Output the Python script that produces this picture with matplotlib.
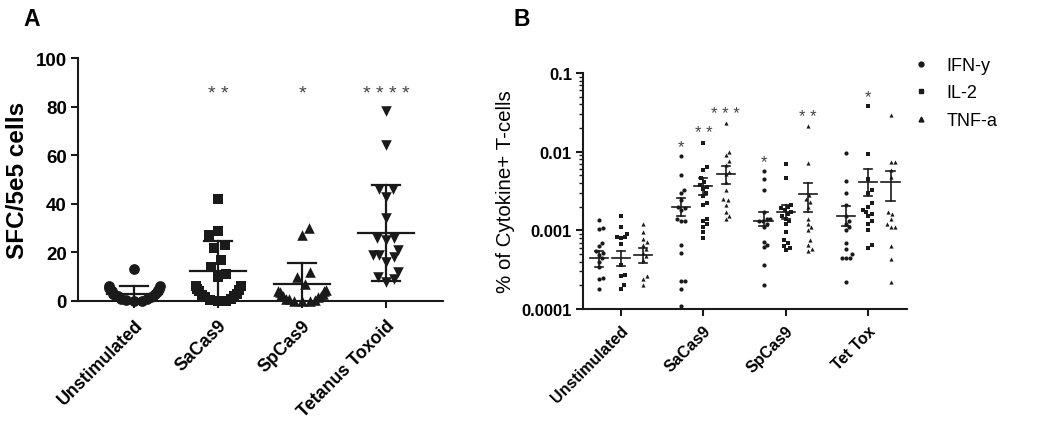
import matplotlib
matplotlib.use('Agg')
import matplotlib.pyplot as plt
import numpy as np

plt.rcParams['font.family'] = ['Liberation Sans', 'DejaVu Sans']

# ---- Panel A: ELISpot SFC per 5e5 cells ----
a_groups = ['Unstimulated', 'SaCas9', 'SpCas9', 'Tetanus Toxoid']
a_unstim = [13, 6, 6, 5.5, 5, 5, 4.5, 4, 3.5, 3, 3, 2.5, 2, 2, 1.5, 1, 1, 0.5, 0, 0]
a_sacas9 = [42, 29, 27, 23, 22, 17, 14, 11, 10, 6, 6, 5, 4.5, 4, 3, 2.5, 2, 1.5, 1, 0.5, 0, 0]
a_spcas9 = [30, 27, 12, 10, 7, 4.5, 4, 4, 3.5, 3, 2.5, 2, 2, 1.5, 1, 1, 0.5, 0, 0, 0]
a_tettox = [78, 64, 46, 46, 43, 34, 26, 26, 25, 21, 19, 19, 18, 16, 12, 10, 9, 8]
a_mean = [3.0, 12.2, 6.9, 28.1]
a_sd = [3.0, 12.3, 8.6, 19.8]
a_stars = ['', '* *', '*', '* * * *']

# ---- Panel B: % cytokine+ T cells ----
b_groups = ['Unstimulated', 'SaCas9', 'SpCas9', 'Tet Tox']
b_cytokines = ['IFN-y', 'IL-2', 'TNF-a']
b_ifn = [
    [0.00136, 0.00107, 0.00105, 0.00069, 0.00064, 0.00055, 0.00051, 0.00049, 0.00044, 0.0004, 0.00034, 0.00025, 0.00024, 0.00018],
    [0.0087, 0.005, 0.0033, 0.003, 0.0024, 0.002, 0.0019, 0.0018, 0.0014, 0.0013, 0.0013, 0.00066, 0.00052, 0.00023, 0.00023, 0.00018, 0.00011],
    [0.0056, 0.0045, 0.0033, 0.0017, 0.0014, 0.0014, 0.0013, 0.0013, 0.0012, 0.0011, 0.00072, 0.00066, 0.00062, 0.00036, 0.0002],
    [0.0096, 0.0043, 0.003, 0.0021, 0.0015, 0.0013, 0.0012, 0.0011, 0.001, 0.0007, 0.00058, 0.0005, 0.00045, 0.00045, 0.00044, 0.00022],
]
b_il2 = [
    [0.0015, 0.0011, 0.0009, 0.00083, 0.00082, 0.0008, 0.00068, 0.00036, 0.00027, 0.00026, 0.0002, 0.00018],
    [0.013, 0.0063, 0.0058, 0.0046, 0.0041, 0.0038, 0.0036, 0.0034, 0.003, 0.0027, 0.0022, 0.0021, 0.0014, 0.0013, 0.0012, 0.0011, 0.00094, 0.00079],
    [0.007, 0.0046, 0.0021, 0.002, 0.0019, 0.0018, 0.0017, 0.0016, 0.0015, 0.0014, 0.0013, 0.0012, 0.00096, 0.00076, 0.0007, 0.00064, 0.0006, 0.00056],
    [0.038, 0.0093, 0.0045, 0.0033, 0.003, 0.0022, 0.002, 0.0018, 0.0017, 0.0016, 0.0015, 0.0013, 0.0012, 0.001, 0.00065, 0.0006],
]
b_tnf = [
    [0.0012, 0.00094, 0.00078, 0.00072, 0.00066, 0.00058, 0.00052, 0.00047, 0.00042, 0.00026, 0.00024, 0.0002],
    [0.023, 0.0098, 0.0092, 0.0076, 0.0068, 0.0055, 0.0052, 0.0041, 0.0033, 0.0025, 0.0024, 0.0021, 0.0017, 0.0015, 0.0014],
    [0.021, 0.0072, 0.0028, 0.0025, 0.0023, 0.002, 0.0014, 0.0012, 0.0011, 0.001, 0.00075, 0.00066, 0.00058, 0.00055],
    [0.029, 0.0074, 0.0073, 0.0058, 0.0048, 0.0017, 0.0016, 0.0014, 0.0012, 0.0011, 0.0011, 0.00063, 0.00043, 0.00022],
]
# mean and SEM limits
b_mean = [[0.00045, 0.00196, 0.00133, 0.00154],
          [0.00044, 0.00363, 0.0017, 0.00407],
          [0.00048, 0.0052, 0.0029, 0.0041]]
b_lo = [[0.00034, 0.0015, 0.00115, 0.00115],
        [0.000356, 0.00281, 0.00139, 0.00275],
        [0.000385, 0.0039, 0.0017, 0.00238]]
b_hi = [[0.00055, 0.00255, 0.0017, 0.00206],
        [0.00055, 0.00458, 0.0021, 0.0061],
        [0.00059, 0.0066, 0.004, 0.0057]]
b_stars = [['', '*', '*', ''],
           ['', '* *', '', '*'],
           ['', '* * *', '* *', '']]

INK = '#1a1a1a'
STAR = '#444444'
W, H = 1050, 427
fig = plt.figure(figsize=(W / 100, H / 100), dpi=100)


def swarm(ypix, wx, wy, maxw):
    # beeswarm with an elliptical keep-out zone (wx, wy in px),
    # then squeeze crowded rows towards +-maxw px like Prism does
    order = np.argsort(ypix, kind='stable')
    placed = []
    xs = np.zeros(len(ypix))

    def free(c, y):
        return all(((c - px) / wx) ** 2 + ((y - py) / wy) ** 2 >= 1 - 1e-6 for px, py in placed)

    for i in order:
        y = ypix[i]
        cands = [0.0]
        for px, py in placed:
            dy = abs(py - y)
            if dy < wy:
                dx = wx * np.sqrt(1 - (dy / wy) ** 2)
                cands += [px + dx, px - dx]
        cands.sort(key=abs)
        for c in cands:
            if free(c, y):
                xs[i] = c
                placed.append((c, y))
                break
    return maxw * xs / (maxw + np.abs(xs))


def px_per_unit_x(ax):
    x0, x1 = ax.get_xlim()
    return ax.get_position().width * W / (x1 - x0)


def to_ypix(ax, vals):
    return ax.transData.transform(np.column_stack([np.zeros(len(vals)), vals]))[:, 1]


# ================= Panel A =================
axA = fig.add_axes([78 / W, 1 - 302 / H, (443 - 78) / W, (302 - 59) / H])
axA.set_xlim(-0.67, 3.68)
axA.set_ylim(0, 100)
ppu = px_per_unit_x(axA)
a_data = [a_unstim, a_sacas9, a_spcas9, a_tettox]
a_markers = ['o', 's', '^', 'v']
a_sizes = [60, 48, 58, 58]
for i, vals in enumerate(a_data):
    vals = np.array(vals, dtype=float)
    off = swarm(to_ypix(axA, vals), 10.0, 18.0, 36.0) / ppu
    axA.scatter(i + off, vals, marker=a_markers[i], s=a_sizes[i], color=INK,
                linewidths=0, clip_on=False, zorder=3)
    m, sd = a_mean[i], a_sd[i]
    axA.plot([i - 0.33, i + 0.33], [m, m], color=INK, lw=1.6, zorder=4)
    axA.plot([i, i], [max(m - sd, 0), m + sd], color=INK, lw=1.6, zorder=4)
    axA.plot([i - 0.17, i + 0.17], [m + sd, m + sd], color=INK, lw=1.6, zorder=4)
    axA.plot([i - 0.17, i + 0.17], [m - sd, m - sd], color=INK, lw=1.6, zorder=4)
    if a_stars[i]:
        axA.text(i, 85.5, a_stars[i], ha='center', va='center', fontsize=14,
                 color=STAR)

axA.set_xticks(range(len(a_groups)))
axA.set_xticklabels(a_groups, rotation=45, ha='right', rotation_mode='anchor',
                    fontsize=12.8, fontweight='bold')
axA.set_yticks([0, 20, 40, 60, 80, 100])
for lab in axA.get_yticklabels():
    lab.set_fontweight('bold')
    lab.set_fontsize(13.5)
axA.set_ylabel('SFC/5e5 cells', fontsize=17.5, fontweight='bold', labelpad=5)
for s in ['top', 'right']:
    axA.spines[s].set_visible(False)
for s in ['left', 'bottom']:
    axA.spines[s].set_linewidth(1.5)
    axA.spines[s].set_color(INK)
axA.tick_params(axis='both', length=5, width=1.5, color=INK, pad=3)
axA.tick_params(axis='x', pad=6)
fig.text(32 / W, 1 - 20 / H, 'A', fontsize=16.5, fontweight='bold', ha='center', va='center')

# ================= Panel B =================
axB = fig.add_axes([583 / W, 1 - 310 / H, (907 - 583) / W, (310 - 74) / H])
axB.set_yscale('log')
axB.set_xlim(-0.46, 3.47)
axB.set_ylim(1e-4, 0.1)
ppu = px_per_unit_x(axB)
b_series = [b_ifn, b_il2, b_tnf]
b_markers = ['o', 's', '^']
b_sizes = [9, 8, 9]
shift = 0.27
for k, series in enumerate(b_series):
    for i, vals in enumerate(series):
        vals = np.array(vals, dtype=float)
        xc = i + (k - 1) * shift
        off = swarm(to_ypix(axB, vals), 5.5, 5.0, 16.0) / ppu
        axB.scatter(xc + off, vals, marker=b_markers[k], s=b_sizes[k], color=INK,
                    linewidths=0, zorder=3, clip_on=False)
        m, lo, hi = b_mean[k][i], b_lo[k][i], b_hi[k][i]
        axB.plot([xc - 0.11, xc + 0.11], [m, m], color=INK, lw=1.2, zorder=4)
        axB.plot([xc, xc], [lo, hi], color=INK, lw=1.2, zorder=4)
        axB.plot([xc - 0.05, xc + 0.05], [hi, hi], color=INK, lw=1.2, zorder=4)
        axB.plot([xc - 0.05, xc + 0.05], [lo, lo], color=INK, lw=1.2, zorder=4)
        if b_stars[k][i]:
            axB.text(xc, max(vals) * 1.33, b_stars[k][i], ha='center', va='center',
                     fontsize=12, color=STAR)

axB.set_xticks(range(len(b_groups)))
axB.set_xticklabels(b_groups, rotation=45, ha='right', rotation_mode='anchor',
                    fontsize=11.5, fontweight='bold')
axB.set_yticks([1e-4, 1e-3, 1e-2, 1e-1])
axB.set_yticklabels(['0.0001', '0.001', '0.01', '0.1'], fontsize=12, fontweight='bold')
axB.set_ylabel('% of Cytokine+ T-cells', fontsize=14.8, labelpad=5)
for s in ['top', 'right']:
    axB.spines[s].set_visible(False)
for s in ['left', 'bottom']:
    axB.spines[s].set_linewidth(1.5)
    axB.spines[s].set_color(INK)
axB.tick_params(axis='both', which='major', length=5, width=1.5, color=INK, pad=3)
axB.tick_params(axis='y', which='minor', length=3, width=1.0, color=INK)
axB.tick_params(axis='x', pad=5)
fig.text(522 / W, 1 - 19 / H, 'B', fontsize=16.5, fontweight='bold', ha='center', va='center')

handles = [plt.Line2D([], [], marker=mk, color=INK, linestyle='none', markersize=3.5)
           for mk in b_markers]
fig.legend(handles, b_cytokines, loc='upper left', bbox_to_anchor=(912 / W, 1 - 58 / H),
           frameon=False, fontsize=13, handlelength=1.0, handletextpad=0.9,
           labelspacing=0.58, borderpad=0, borderaxespad=0)

fig.savefig('out.png', dpi=100)
